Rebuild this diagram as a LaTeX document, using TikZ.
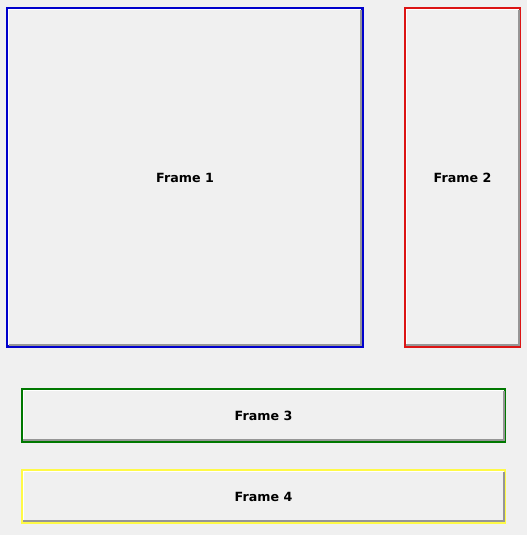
\documentclass[tikz,border=0pt]{standalone}
\usepackage{fontspec}
\setsansfont{DejaVu Sans}
\usepackage{xcolor}
\usepackage{tikz}
\usetikzlibrary{calc}

\definecolor{winbg}{RGB}{240,240,240}
\definecolor{fblue}{RGB}{0,0,204}
\definecolor{fred}{RGB}{220,20,20}
\definecolor{fgreen}{RGB}{0,120,0}
\definecolor{fyellow}{RGB}{255,250,70}
\definecolor{bevel}{RGB}{150,150,150}

\begin{document}
\begin{tikzpicture}[
  x=0.75pt, y=-0.75pt,
  font=\sffamily\bfseries\fontsize{9.5}{11}\selectfont,
  frame/.style={draw, fill=winbg, line width=2pt, inner sep=0pt, align=center},
  dark/.style={draw=bevel, line width=1.5pt},
  light/.style={draw=white, line width=0.75pt},
]
% window background
\fill[winbg] (0,0) rectangle (527,535);
\useasboundingbox (0,0) rectangle (527,535);
% frames
\node[frame, draw=fblue, minimum width=355*0.75pt, minimum height=338*0.75pt] (f1) at (185,177.5) {Frame 1};
\node[frame, draw=fred, minimum width=115*0.75pt, minimum height=338*0.75pt] (f2) at (462.5,177.5) {Frame 2};
\node[frame, draw=fgreen, minimum width=483*0.75pt, minimum height=52*0.75pt] (f3) at (263.5,415.5) {Frame 3};
\node[frame, draw=fyellow, minimum width=483*0.75pt, minimum height=52*0.75pt] (f4) at (263.5,496.5) {Frame 4};
% sunken edges
\foreach \f in {f1,f2,f3,f4}{
  \draw[light] ([shift={(2.5,-2.5)}]\f.south west) -- ([shift={(2.5,2.5)}]\f.north west) -- ([shift={(-2.5,2.5)}]\f.north east);
  \draw[dark] ([shift={(-2.5,2.5)}]\f.north east) -- ([shift={(-2.5,-2.5)}]\f.south east) -- ([shift={(2.5,-2.5)}]\f.south west);
}
\end{tikzpicture}
\end{document}
